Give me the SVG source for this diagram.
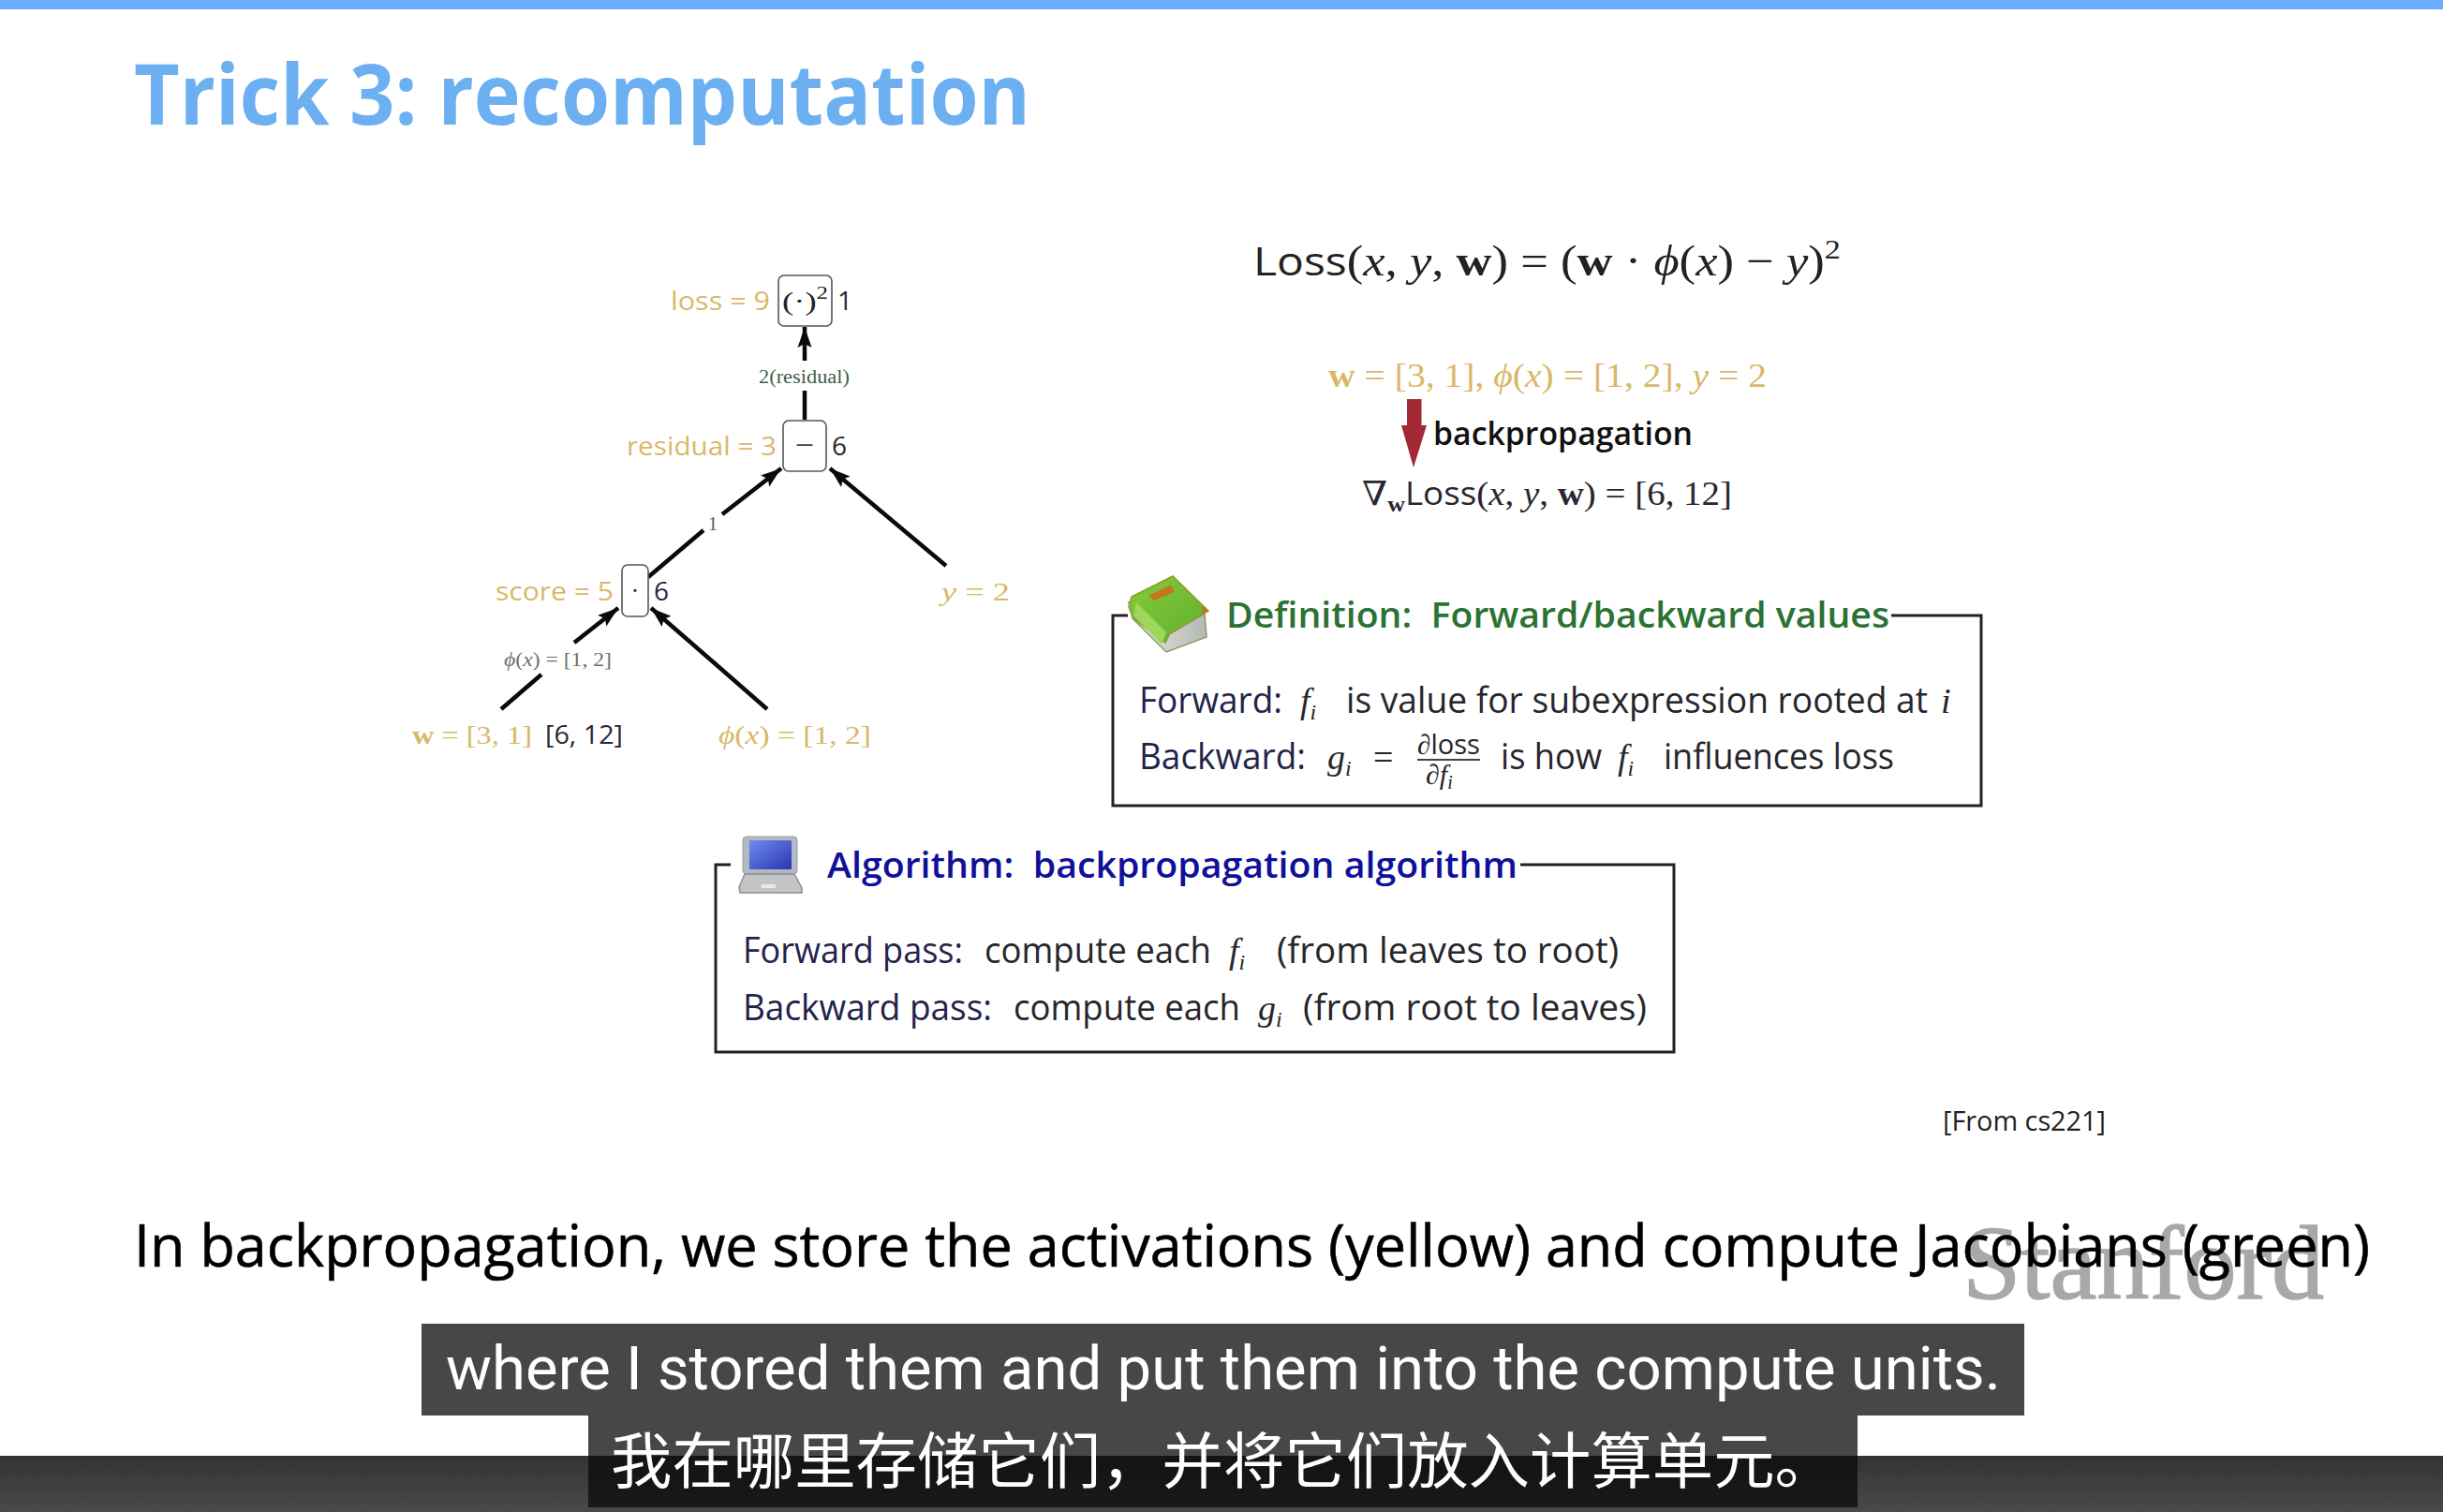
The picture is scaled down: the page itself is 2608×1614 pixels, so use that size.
<svg xmlns="http://www.w3.org/2000/svg" width="2608" height="1614" viewBox="0 0 2608 1614">
<defs>
<style>
text{white-space:pre}
.s{font-family:"Open Sans","Liberation Sans",sans-serif}
.m{font-family:"Liberation Serif","DejaVu Serif",serif}
.i{font-family:"Liberation Serif","DejaVu Serif",serif;font-style:italic}
.y{fill:#d9b868}
.dk{fill:#2a2733}
.n{fill:#fff;stroke:#555;stroke-width:1.6}
.e{stroke:#0a0a0a;stroke-width:4.5;fill:none}
.box{fill:none;stroke:#222;stroke-width:3}
.lb{font-size:28px}
.body{font-size:38px;fill:#26262c}
.navy{fill:#23234a}
</style>
<marker id="ah" markerUnits="userSpaceOnUse" markerWidth="24" markerHeight="18" refX="22" refY="9" orient="auto"><path d="M0 1.500L22 9L0 16.500L4 9Z" fill="#0a0a0a"/></marker>
<linearGradient id="bar" x1="0" y1="0" x2="0" y2="1"><stop offset="0" stop-color="#333"/><stop offset="1" stop-color="#4a4a4a"/></linearGradient>
<linearGradient id="scr" x1="0" y1="0" x2="1" y2="1"><stop offset="0" stop-color="#6f8cf0"/><stop offset="1" stop-color="#2a35b0"/></linearGradient>
<linearGradient id="cover" x1="0" y1="0" x2="1" y2="1"><stop offset="0" stop-color="#86cc3c"/><stop offset="1" stop-color="#5fae2c"/></linearGradient>
<linearGradient id="pages" x1="0" y1="0" x2="1" y2="0"><stop offset="0" stop-color="#e8ebdf"/><stop offset="1" stop-color="#b4b8b4"/></linearGradient>
</defs>
<rect width="2608" height="1614" fill="#fff"/>
<rect id="top-bar" width="2608" height="10" fill="#6aaeff"/>
<text id="title" class="s" x="143" y="133" font-size="90" font-weight="700" fill="#6cb0f2" textLength="957" lengthAdjust="spacingAndGlyphs">Trick 3: recomputation</text>

<g id="connectors">
<path class="e" d="M859 448V417"/>
<path class="e" d="M859 385V349" marker-end="url(#ah)"/>
<path class="e" d="M692 616L751 566"/>
<path class="e" d="M771 549L834 500" marker-end="url(#ah)"/>
<path class="e" d="M1010 604L886 500" marker-end="url(#ah)"/>
<path class="e" d="M535 757L578 720"/>
<path class="e" d="M613 686L660 649" marker-end="url(#ah)"/>
<path class="e" d="M819 757L695 649" marker-end="url(#ah)"/>
</g>

<g id="node-loss">
<rect class="n" x="831" y="294" width="57" height="54" rx="6"/>
<text class="m lb" x="835" y="331" fill="#222" textLength="49" lengthAdjust="spacingAndGlyphs">(·)<tspan font-size="19" dy="-12">2</tspan></text>
<text class="s lb y" x="716" y="331" textLength="106" lengthAdjust="spacingAndGlyphs">loss = 9</text>
<text class="s lb dk" x="894" y="331">1</text>
</g>
<g id="node-residual">
<rect class="n" x="836" y="449" width="46" height="54" rx="6"/>
<text class="m" x="859" y="487" font-size="36" text-anchor="middle" fill="#444">−</text>
<text class="s lb y" x="669" y="486" textLength="160" lengthAdjust="spacingAndGlyphs">residual = 3</text>
<text class="s lb dk" x="888" y="486">6</text>
</g>
<g id="node-score">
<rect class="n" x="664" y="603" width="28" height="55" rx="6"/>
<text class="m lb" x="678" y="640" text-anchor="middle" fill="#333">·</text>
<text class="s lb y" x="529" y="641" textLength="126" lengthAdjust="spacingAndGlyphs">score = 5</text>
<text class="s lb dk" x="698" y="641">6</text>
</g>
<g id="node-y"><text class="m lb y" x="1005" y="641" textLength="73" lengthAdjust="spacingAndGlyphs"><tspan class="i">y</tspan> = 2</text></g>
<g id="node-w">
<text class="m lb y" x="440" y="794" textLength="128" lengthAdjust="spacingAndGlyphs"><tspan font-weight="700">w</tspan> = [3, 1]</text>
<text class="s lb dk" x="582" y="794" textLength="83" lengthAdjust="spacingAndGlyphs">[6, 12]</text>
</g>
<g id="node-phi"><text class="m lb y" x="767" y="794" textLength="163" lengthAdjust="spacingAndGlyphs"><tspan class="i">ϕ</tspan>(<tspan class="i">x</tspan>) = [1, 2]</text></g>

<g id="edge-labels">
<text class="m" x="810" y="409" font-size="20" fill="#3f5f48" textLength="97" lengthAdjust="spacingAndGlyphs">2(residual)</text>
<text class="m" x="756" y="566" font-size="20" fill="#555">1</text>
<text class="m" x="538" y="711" font-size="20" fill="#6a7268" textLength="115" lengthAdjust="spacingAndGlyphs"><tspan class="i">ϕ</tspan>(<tspan class="i">x</tspan>) = [1, 2]</text>
</g>

<g id="formula">
<text class="m" x="1338" y="294" font-size="46" fill="#222" textLength="627" lengthAdjust="spacingAndGlyphs"><tspan class="s" font-size="42">Loss</tspan>(<tspan class="i">x</tspan>, <tspan class="i">y</tspan>, <tspan font-weight="700">w</tspan>) = (<tspan font-weight="700">w</tspan> · <tspan class="i">ϕ</tspan>(<tspan class="i">x</tspan>) − <tspan class="i">y</tspan>)<tspan font-size="30" dy="-18">2</tspan></text>
<text class="m y" x="1418" y="413" font-size="36" textLength="468" lengthAdjust="spacingAndGlyphs"><tspan font-weight="700">w</tspan> = [3, 1], <tspan class="i">ϕ</tspan>(<tspan class="i">x</tspan>) = [1, 2], <tspan class="i">y</tspan> = 2</text>
<path id="red-arrow" d="M1502 426H1517.500V454H1523L1509 499L1496 454H1502Z" fill="#a32a35"/>
<text class="s" x="1530" y="475" font-size="35" font-weight="600" fill="#111" textLength="277" lengthAdjust="spacingAndGlyphs">backpropagation</text>
<text class="m" x="1454" y="539" font-size="36" fill="#2a2630" textLength="395" lengthAdjust="spacingAndGlyphs">∇<tspan font-weight="700" font-size="24" dy="7">w</tspan><tspan class="s" font-size="34" dy="-7">Loss</tspan>(<tspan class="i">x</tspan>, <tspan class="i">y</tspan>, <tspan font-weight="700">w</tspan>) = [6, 12]</text>
</g>

<g id="definition">
<path class="box" d="M1204 657H1188V860H2115V657H2019"/>
<g id="book">
<path d="M1205 643L1209 660L1245 696L1288 680L1286 655L1250 676Z" fill="url(#pages)" stroke="#8c9a60" stroke-width="1.500"/>
<path d="M1208 637L1252 615L1290 652L1249 676L1244 686L1210 660L1205 648Z" fill="url(#cover)" stroke="#8f9c35" stroke-width="1.500"/>
<path d="M1213 643L1245 675L1240 688L1210 657Z" fill="#9ed85a"/>
<path d="M1284 646L1290 652L1283 656Z" fill="#b5772a"/>
<path d="M1226 636L1250 624L1254 632L1232 641Z" fill="#c8741e"/>
</g>
<text class="s" x="1309" y="670" font-size="38" font-weight="600" fill="#2b7233" textLength="708" lengthAdjust="spacingAndGlyphs">Definition:  Forward/backward values</text>
<text class="s body navy" x="1216" y="761" textLength="153" lengthAdjust="spacingAndGlyphs">Forward:</text>
<text class="i body y" x="1388" y="761">f<tspan font-size="24" dy="7">i</tspan></text>
<text class="s body" x="1437" y="761" textLength="621" lengthAdjust="spacingAndGlyphs">is value for subexpression rooted at</text>
<text class="i body" x="2072" y="761">i</text>
<text class="s body navy" x="1216" y="821" textLength="178" lengthAdjust="spacingAndGlyphs">Backward:</text>
<text class="i body" x="1417" y="821">g<tspan font-size="24" dy="7">i</tspan></text>
<text class="m body" x="1466" y="821">=</text>
<text class="m" x="1513" y="805" font-size="30" fill="#26262c" textLength="67" lengthAdjust="spacingAndGlyphs">∂<tspan class="s">loss</tspan></text>
<path d="M1513 811H1580" stroke="#444" stroke-width="2"/>
<text class="i" x="1522" y="837" font-size="30" fill="#26262c">∂f<tspan font-size="20" dy="5">i</tspan></text>
<text class="s body" x="1602" y="821" textLength="108" lengthAdjust="spacingAndGlyphs">is how</text>
<text class="i body" x="1727" y="821">f<tspan font-size="24" dy="7">i</tspan></text>
<text class="s body" x="1776" y="821" textLength="246" lengthAdjust="spacingAndGlyphs">influences loss</text>
</g>

<g id="algorithm">
<path class="box" d="M780 923H764V1123H1787V923H1623"/>
<g id="laptop">
<rect x="793" y="893" width="58" height="40" rx="4" fill="#b4b8c0" stroke="#9a9ca2"/>
<rect x="800" y="897" width="45" height="31" rx="1" fill="url(#scr)"/>
<path d="M795 933H848L856 948V953H790L789 947Z" fill="#c2c4c6" stroke="#8c8f94" stroke-width="1.500"/>
<rect x="813" y="944" width="15" height="4" fill="#e8e8e8"/>
</g>
<text class="s" x="883" y="937" font-size="38" font-weight="600" fill="#10109a" textLength="737" lengthAdjust="spacingAndGlyphs">Algorithm:  backpropagation algorithm</text>
<text class="s body navy" x="793" y="1028" textLength="235" lengthAdjust="spacingAndGlyphs">Forward pass:</text>
<text class="s body" x="1051" y="1028" textLength="242" lengthAdjust="spacingAndGlyphs">compute each</text>
<text class="i body" x="1312" y="1028">f<tspan font-size="24" dy="7">i</tspan></text>
<text class="s body" x="1363" y="1028" textLength="365" lengthAdjust="spacingAndGlyphs">(from leaves to root)</text>
<text class="s body navy" x="793" y="1089" textLength="266" lengthAdjust="spacingAndGlyphs">Backward pass:</text>
<text class="s body" x="1082" y="1089" textLength="242" lengthAdjust="spacingAndGlyphs">compute each</text>
<text class="i body" x="1343" y="1089">g<tspan font-size="24" dy="7">i</tspan></text>
<text class="s body" x="1391" y="1089" textLength="367" lengthAdjust="spacingAndGlyphs">(from root to leaves)</text>
</g>

<text id="source" class="s" x="2074" y="1207" font-size="30" fill="#222" textLength="174" lengthAdjust="spacingAndGlyphs">[From cs221]</text>
<text id="stanford" class="m" x="2095" y="1386" font-size="112" fill="#a8a8a8" stroke="#a8a8a8" stroke-width="1.500" textLength="386" lengthAdjust="spacingAndGlyphs">Stanford</text>
<text id="caption" class="s" x="143" y="1352" font-size="62" font-weight="500" fill="#000" stroke="#000" stroke-width=".6" textLength="2387" lengthAdjust="spacingAndGlyphs">In backpropagation, we store the activations (yellow) and compute Jacobians (green)</text>

<g id="subtitles">
<rect x="0" y="1554" width="2608" height="60" fill="url(#bar)"/>
<rect x="450" y="1413" width="1711" height="98" fill="#0a0a0a" fill-opacity=".75"/>
<rect x="628" y="1511" width="1355" height="98" fill="#0a0a0a" fill-opacity=".75"/>
<text x="476" y="1483" font-family="Roboto,'Liberation Sans',sans-serif" font-size="64" fill="#fff" textLength="1660" lengthAdjust="spacingAndGlyphs">where I stored them and put them into the compute units.</text>
<text x="652" y="1583" font-family="'Noto Sans CJK SC','Noto Sans',sans-serif" font-size="65" fill="#fff" textLength="1308" lengthAdjust="spacingAndGlyphs">我在哪里存储它们，并将它们放入计算单元。</text>
</g>
</svg>
